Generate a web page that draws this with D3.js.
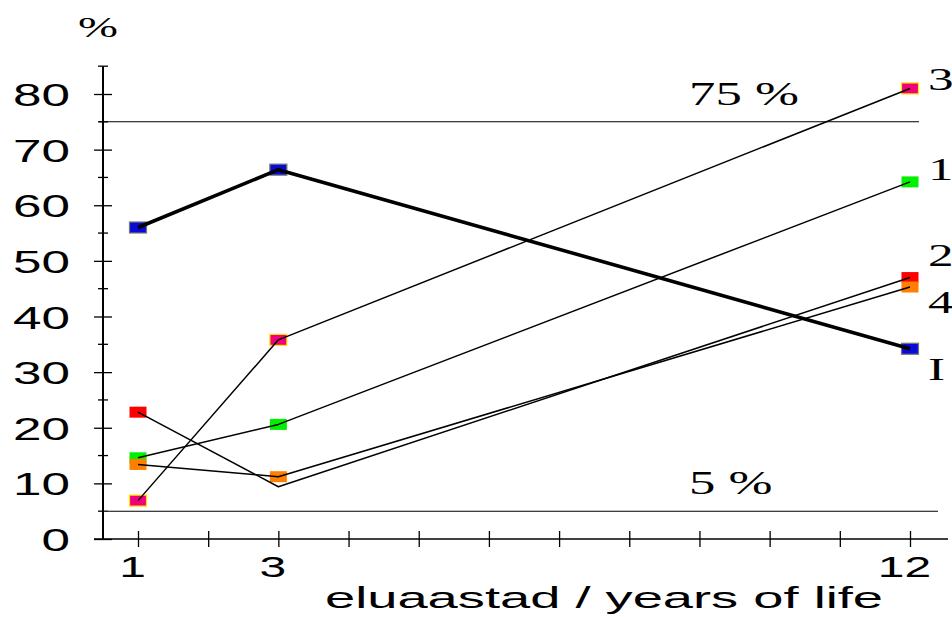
<!DOCTYPE html>
<html>
<head>
<meta charset="utf-8">
<script src="https://cdn.jsdelivr.net/npm/d3@7"></script>
<style>
  html, body { margin: 0; padding: 0; background: #fff; }
  svg { display: block; }
</style>
</head>
<body>
<svg width="952" height="617"></svg>
<script>
const svg = d3.select('svg');

// data
const years = [1, 3, 12];
const seriesNames = ['I', '1', '2', '3', '4'];
const valuesI = [56, 66.4, 34.2];
const values1 = [14.6, 20.6, 64.2];
const values2 = [22.8, 9.4, 47.0];
const values3 = [6.9, 35.8, 81.0];
const values4 = [13.4, 11.2, 45.3];
const yTicks = [0, 10, 20, 30, 40, 50, 60, 70, 80];
const xTickLabels = [1, 3, 12];
const refLines = [75, 5];

// styles
const colors = { I: '#0a0ad6', '1': '#00f000', '2': '#ff0000', '3': '#f0007a', '4': '#ff8000' };
const borders = { I: '#777', '1': 'none', '2': 'none', '3': '#ffe600', '4': 'none' };
const widths = { I: 3.6, '1': 1.5, '2': 1.5, '3': 1.5, '4': 1.5 };
const labelDy = { I: 31, '1': -2, '2': -12, '3': 2, '4': 26 };
const hideMarker = { '2': [3] };   // red marker at year 3 is not shown
const SX = 1.6;                    // the original text is stretched sideways

const series = [
    { name: 'I', values: valuesI },
    { name: '1', values: values1 },
    { name: '2', values: values2 },
    { name: '3', values: values3 },
    { name: '4', values: values4 }
];

const x = d3.scaleLinear().domain([1, 12]).range([138, 910]);
const y = d3.scaleLinear().domain([0, 80]).range([539, 94]);
const axisX = 103, xEnd = 948;

const SANS = '"Liberation Sans", Arial, sans-serif';
const SERIF = '"Liberation Serif", "Times New Roman", serif';

// y axis
const gy = svg.append('g').attr('transform', `translate(${axisX},0)`);
gy.append('line').attr('x1', 0).attr('x2', 0).attr('y1', y(85)).attr('y2', y(0))
    .attr('stroke', '#000').attr('stroke-width', 2);
gy.selectAll('.minor').data(d3.range(5, 90, 10)).enter().append('line')
    .attr('x1', -5).attr('x2', 5).attr('y1', d => y(d)).attr('y2', d => y(d))
    .attr('stroke', '#000').attr('stroke-width', 1.3);
const yAxis = d3.axisLeft(y).tickValues(yTicks).tickSize(0).tickPadding(0);
const yg = gy.append('g').call(yAxis);
yg.select('.domain').remove();
yg.selectAll('.tick').append('line').attr('x1', -9).attr('x2', 9)
    .attr('stroke', '#000').attr('stroke-width', 1.3);
yg.selectAll('.tick text')
    .attr('x', null).attr('dy', '0.36em')
    .attr('transform', `translate(-33,0) scale(${SX},1)`)
    .style('font-family', SANS).style('font-size', '32px').attr('fill', '#000');

// x axis
const gx = svg.append('g').attr('transform', `translate(0,${y(0)})`);
gx.append('line').attr('x1', 94).attr('x2', xEnd).attr('stroke', '#000').attr('stroke-width', 1.5);
const xAxis = d3.axisBottom(x).tickValues(d3.range(1, 13)).tickSize(0)
    .tickFormat(d => xTickLabels.includes(d) ? d : '');
const xg = gx.append('g').call(xAxis);
xg.select('.domain').remove();
xg.selectAll('.tick').append('line').attr('y1', -8).attr('y2', 8)
    .attr('stroke', '#000').attr('stroke-width', 1.3);
xg.selectAll('.tick text')
    .attr('y', null).attr('dy', null)
    .attr('transform', `translate(-6,38) scale(${SX},1)`)
    .style('font-family', SANS).style('font-size', '30px').attr('fill', '#000');

// reference lines
const refExtent = { 75: [99, 919], 5: [108, 938] };
svg.selectAll('.ref').data(refLines).enter().append('line')
    .attr('x1', d => refExtent[d][0]).attr('x2', d => refExtent[d][1])
    .attr('y1', d => y(d)).attr('y2', d => y(d))
    .attr('stroke', '#000').attr('stroke-width', 1.1);
svg.selectAll('.reflabel').data(refLines).enter().append('text')
    .attr('transform', d => `translate(689,${y(d) - 17}) scale(${SX},1)`)
    .style('font-family', SERIF).style('font-size', '33px')
    .text(d => d + ' %');

// markers
const pts = [];
series.forEach(s => s.values.forEach((v, i) => {
    if (!(hideMarker[s.name] || []).includes(years[i])) pts.push({ name: s.name, year: years[i], v: v });
}));
const order = ['I', '1', '2', '4', '3'];
pts.sort((a, b) => order.indexOf(a.name) - order.indexOf(b.name));
svg.selectAll('.mk').data(pts).enter().append('rect')
    .attr('x', d => x(d.year) - 8.5).attr('y', d => y(d.v) - 5.5)
    .attr('width', 17).attr('height', 11)
    .attr('fill', d => colors[d.name])
    .attr('stroke', d => borders[d.name]).attr('stroke-width', 1.2);

// lines
const line = d3.line().x((d, i) => x(years[i])).y(d => y(d));
svg.selectAll('.ln').data(series).enter().append('path')
    .attr('d', d => line(d.values))
    .attr('fill', 'none').attr('stroke', '#000')
    .attr('stroke-width', d => widths[d.name]).attr('stroke-linejoin', 'round');

// series labels at right
svg.selectAll('.sl').data(series).enter().append('text')
    .attr('transform', d => `translate(928,${y(d.values[2]) + labelDy[d.name]}) scale(${SX},1)`)
    .style('font-family', SERIF).style('font-size', '32px')
    .text(d => d.name);

// axis titles
svg.append('text')
    .attr('transform', `translate(78,37) scale(${SX},1)`)
    .style('font-family', SERIF).style('font-size', '30px')
    .text('%');
svg.append('text')
    .attr('x', 325).attr('y', 608)
    .attr('textLength', 558).attr('lengthAdjust', 'spacingAndGlyphs')
    .style('font-family', SANS).style('font-size', '30px')
    .text('eluaastad / years of life');
</script>
</body>
</html>
